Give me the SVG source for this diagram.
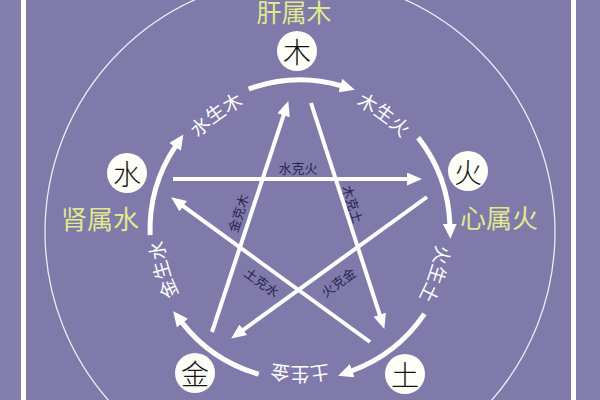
<svg xmlns="http://www.w3.org/2000/svg" xmlns:xlink="http://www.w3.org/1999/xlink" width="600" height="400" viewBox="0 0 600 400">
<style>
.cjk{font-family:"Noto Sans CJK SC","Noto Sans CJK JP",sans-serif;}
.organ{fill:#e0e98e;font-size:26px;text-anchor:middle;}
.gen{fill:#ffffff;font-size:19px;}
.ke{fill:#2b2450;font-size:13px;text-anchor:middle;dominant-baseline:central;}
.node circle{fill:#fffef8;}
.node text{fill:#141414;font-size:28px;font-weight:300;text-anchor:middle;dominant-baseline:central;}
.arc{fill:none;stroke:#ffffff;stroke-width:5;marker-end:url(#ah);}
.star{fill:none;stroke:#ffffff;stroke-width:4;marker-end:url(#sh);}
</style>
<defs>
<marker id="ah" markerUnits="userSpaceOnUse" markerWidth="16" markerHeight="14" refX="1" refY="7" orient="auto" viewBox="0 0 16 14">
<path d="M0,0 L15,7 L0,14 z" fill="#ffffff"/>
</marker>
<marker id="sh" markerUnits="userSpaceOnUse" markerWidth="16" markerHeight="14" refX="1" refY="6.5" orient="auto" viewBox="0 0 16 14">
<path d="M0,0 L15,6.5 L0,13 z" fill="#ffffff"/>
</marker>
<path id="tp" d="M437,230 A137,137 0 1 1 163,230 A137,137 0 1 1 437,230"/>
</defs>
<rect x="0" y="0" width="600" height="400" fill="#7f7aaa"/>
<rect x="576" y="0" width="24" height="400" fill="#837eac"/>
<rect x="0" y="0" width="21" height="400" fill="#837eac"/>
<line x1="23.5" y1="0" x2="23.5" y2="400" stroke="#ffffff" stroke-width="5"/>
<line x1="573.5" y1="0" x2="573.5" y2="400" stroke="#ffffff" stroke-width="5"/>
<circle cx="300" cy="232" r="255" fill="none" stroke="#ecebf4" stroke-width="1.3"/>

<g id="connectors">
<g id="sheng">
<path class="arc" d="M248.7,89.0 A150,150 0 0 1 341.3,85.8"/>
<path class="arc" d="M418.2,137.6 A150,150 0 0 1 449.9,224.8"/>
<path class="arc" d="M424.4,313.9 A150,150 0 0 1 351.3,371.0"/>
<path class="arc" d="M258.7,374.2 A150,150 0 0 1 181.8,322.4"/>
<path class="arc" d="M150.1,235.2 A150,150 0 0 1 175.6,146.1"/>
</g>
<g id="ke">
<line class="star" x1="173" y1="179" x2="408" y2="179"/>
<line class="star" x1="212" y1="332" x2="283.9" y2="114.3"/>
<line class="star" x1="311" y1="103" x2="380.0" y2="315.6"/>
<line class="star" x1="427" y1="197" x2="242.5" y2="330.4"/>
<line class="star" x1="370" y1="342" x2="182.5" y2="205.6"/>
</g>
</g>

<g id="gen-labels" class="cjk gen">
<text><textPath xlink:href="#tp" href="#tp" startOffset="5%" text-anchor="middle">火生土</textPath></text>
<text><textPath xlink:href="#tp" href="#tp" startOffset="25%" text-anchor="middle">土生金</textPath></text>
<text><textPath xlink:href="#tp" href="#tp" startOffset="45.5%" text-anchor="middle">金生水</textPath></text>
<text><textPath xlink:href="#tp" href="#tp" startOffset="65%" text-anchor="middle">水生木</textPath></text>
<text><textPath xlink:href="#tp" href="#tp" startOffset="85%" text-anchor="middle">木生火</textPath></text>
</g>

<g id="ke-labels" class="cjk">
<text class="ke" x="298" y="167">水克火</text>
<text class="ke" transform="translate(238,213) rotate(-72)">金克木</text>
<text class="ke" transform="translate(353,204) rotate(72)">木克土</text>
<text class="ke" transform="translate(262,282) rotate(36)">土克水</text>
<text class="ke" transform="translate(338,282) rotate(-36)">火克金</text>
</g>

<g id="organs" class="cjk organ">
<text x="294" y="22" style="font-size:25px">肝属木</text>
<text x="100" y="229">肾属水</text>
<text x="499" y="228">心属火</text>
</g>

<g id="node-mu" class="node cjk"><circle cx="297" cy="51" r="20"/><text x="297" y="51">木</text></g>
<g id="node-huo" class="node cjk"><circle cx="468" cy="171" r="20"/><text x="468" y="171">火</text></g>
<g id="node-tu" class="node cjk"><circle cx="405" cy="374" r="20"/><text x="405" y="374">土</text></g>
<g id="node-jin" class="node cjk"><circle cx="195" cy="373" r="20"/><text x="195" y="373">金</text></g>
<g id="node-shui" class="node cjk"><circle cx="127" cy="173" r="20"/><text x="127" y="173">水</text></g>
</svg>
